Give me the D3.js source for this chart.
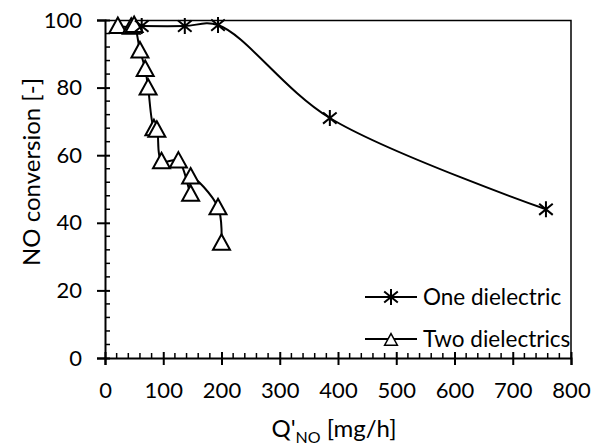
<!DOCTYPE html>
<html>
<head>
<meta charset="utf-8">
<script src="https://cdn.jsdelivr.net/npm/d3@7"></script>
<style>
  html, body { margin: 0; padding: 0; background: #fff; }
  svg { display: block; font-family: Lato, "Open Sans", sans-serif; }
</style>
</head>
<body>
<svg id="chart" width="601" height="445"></svg>
<script>
// One dielectric
const oneX = [63, 137, 194, 386, 757];
const oneY = [98.2, 98.2, 98.5, 71, 44];

// Two dielectrics
const twoX = [22, 45, 50, 60, 69, 74, 84, 89, 97, 126, 147, 147, 194, 200];
const twoY = [98.2, 98, 98.5, 91, 85.5, 80, 68, 67.5, 58.2, 58.4, 48.6, 53.7, 44.6, 34.1];

const xTicks = [0, 100, 200, 300, 400, 500, 600, 700, 800];
const yTicks = [0, 20, 40, 60, 80, 100];
const seriesNames = ['One dielectric', 'Two dielectrics'];

const margin = {top: 20, right: 30, bottom: 87, left: 105};
const svgWidth = 601, svgHeight = 445;
const width = svgWidth - margin.left - margin.right;
const height = svgHeight - margin.top - margin.bottom;

const svg = d3.select('#chart');
const chart = svg.append('g')
                 .attr('transform', `translate(${margin.left}, ${margin.top})`);

/*********** Scales *******************/
const xScale = d3.scaleLinear().domain([0, 800]).range([0, width]);
const yScale = d3.scaleLinear().domain([0, 100]).range([height, 0]);

/*********** Frame (top / right) *******************/
chart.append('path')
     .attr('d', `M0,0.5H${width}V${height}`)
     .attr('fill', 'none')
     .attr('stroke', '#000')
     .attr('stroke-width', 1.5);

/*********** X Axis *******************/
const xMinor = d3.range(0, 801, 20).filter(v => v % 100 !== 0);
const xAxis = chart.append('g').attr('transform', `translate(0, ${height})`);
xAxis.selectAll('.minor').data(xMinor).join('line')
     .attr('x1', d => xScale(d)).attr('x2', d => xScale(d))
     .attr('y1', 0).attr('y2', -5)
     .attr('stroke', '#000').attr('stroke-width', 1.5);
xAxis.call(d3.axisBottom(xScale).tickValues(xTicks).tickSize(7).tickPadding(17))
     .call(g => g.select('.domain').attr('stroke-width', 2))
     .call(g => g.selectAll('.tick line').attr('y1', -6).attr('stroke-width', 2))
     .call(g => g.selectAll('.tick text').style('font-size', '22px').attr('fill', '#000'))
     .attr('font-family', null);

/*********** Y Axis *******************/
const yMinor = d3.range(0, 101, 4).filter(v => v % 20 !== 0);
const yAxis = chart.append('g');
yAxis.selectAll('.minor').data(yMinor).join('line')
     .attr('y1', d => yScale(d)).attr('y2', d => yScale(d))
     .attr('x1', 0).attr('x2', 5)
     .attr('stroke', '#000').attr('stroke-width', 1.5);
yAxis.call(d3.axisLeft(yScale).tickValues(yTicks).tickSize(8).tickPadding(15))
     .call(g => g.select('.domain').attr('stroke-width', 2))
     .call(g => g.selectAll('.tick line').attr('x1', 5).attr('stroke-width', 2))
     .call(g => g.selectAll('.tick text').style('font-size', '22px').attr('fill', '#000'))
     .attr('font-family', null);

/*********** Lines *******************/
chart.append('clipPath').attr('id', 'plot-clip')
     .append('rect').attr('width', width).attr('height', height);

const line = d3.line()
               .x(d => xScale(d[0]))
               .y(d => yScale(d[1]))
               .curve(d3.curveCatmullRom.alpha(0.5));

const oneData = oneX.map((x, i) => [x, oneY[i]]);
const twoData = twoX.map((x, i) => [x, twoY[i]]);

const lines = chart.append('g').attr('clip-path', 'url(#plot-clip)');
[oneData, twoData].forEach(data => {
  lines.append('path')
       .datum(data)
       .attr('d', line)
       .attr('fill', 'none')
       .attr('stroke', '#000')
       .attr('stroke-width', 2);
});

/*********** Markers *******************/
const star = d3.path();
const r = 8;
star.moveTo(0, -r); star.lineTo(0, r);
star.moveTo(-r * 0.85, -r * 0.7); star.lineTo(r * 0.85, r * 0.7);
star.moveTo(-r * 0.85, r * 0.7); star.lineTo(r * 0.85, -r * 0.7);
const starPath = star.toString();
const triPath = 'M0,-8.5L8.5,7L-8.5,7Z';

chart.append('g').selectAll('path').data(twoData).join('path')
     .attr('transform', d => `translate(${xScale(d[0])},${yScale(d[1])})`)
     .attr('d', triPath)
     .attr('fill', '#fff').attr('stroke', '#000').attr('stroke-width', 2);

chart.append('g').selectAll('path').data(oneData).join('path')
     .attr('transform', d => `translate(${xScale(d[0])},${yScale(d[1])})`)
     .attr('d', starPath)
     .attr('fill', 'none').attr('stroke', '#000').attr('stroke-width', 2);

/*********** Legend *******************/
const legend = svg.append('g');
const legendY = [297, 339];
seriesNames.forEach((name, i) => {
  const g = legend.append('g').attr('transform', `translate(365, ${legendY[i]})`);
  g.append('line').attr('x1', 0).attr('x2', 52)
   .attr('stroke', '#000').attr('stroke-width', 2);
  g.append('path')
   .attr('transform', i === 0 ? 'translate(26,0)' : 'translate(26,1) scale(0.75)')
   .attr('d', i === 0 ? starPath : triPath)
   .attr('fill', i === 0 ? 'none' : '#fff')
   .attr('stroke', '#000').attr('stroke-width', 2);
  g.append('text')
   .attr('x', 58).attr('y', 0).attr('dy', '0.35em')
   .style('font-size', '22.5px')
   .text(name);
});

/*********** Axis titles *******************/
svg.append('text')
   .attr('transform', 'translate(40, 172) rotate(-90)')
   .attr('text-anchor', 'middle')
   .style('font-size', '24px')
   .text('NO conversion [-]');

const xt = svg.append('text')
   .attr('x', 334).attr('y', 437)
   .attr('text-anchor', 'middle')
   .style('font-size', '24px');
xt.append('tspan').text("Q'");
xt.append('tspan').attr('dy', 6).style('font-size', '16px').text('NO');
xt.append('tspan').attr('dy', -6).text(' [mg/h]');
</script>
</body>
</html>
